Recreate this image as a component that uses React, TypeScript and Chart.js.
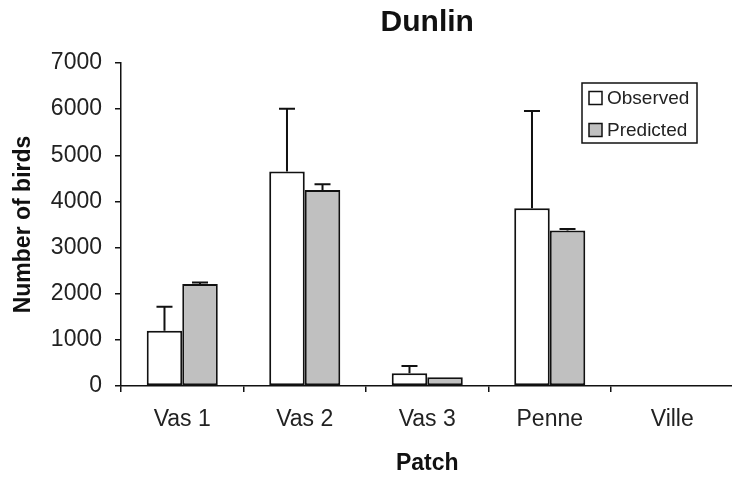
import React, { useEffect, useRef } from 'react';
import { Chart, registerables } from 'chart.js';

Chart.register(...registerables);

const categories = ['Vas 1', 'Vas 2', 'Vas 3', 'Penne', 'Ville'];
const observed = [1200, 4650, 275, 3850, 0];
const observedErr = [520, 1360, 160, 2110, 0];
const predicted = [2210, 4250, 190, 3370, 0];
const predictedErr = [35, 120, 0, 30, 0];
const seriesLabels = ['Observed', 'Predicted'];
const yMin = 0;
const yMax = 7000;
const yStep = 1000;

const FONT = "'Liberation Sans', Arial, Helvetica, sans-serif";

const errorBarPlugin = {
  id: 'errorBars',
  afterDatasetsDraw(chart: any) {
    const errs = [observedErr, predictedErr];
    const ctx = chart.ctx;
    const yScale = chart.scales.y;
    ctx.save();
    ctx.strokeStyle = '#111';
    ctx.lineWidth = 2;
    chart.data.datasets.forEach((ds: any, i: number) => {
      const meta = chart.getDatasetMeta(i);
      meta.data.forEach((bar: any, j: number) => {
        const err = errs[i][j];
        if (!err) return;
        const v = ds.data[j];
        const yTop = yScale.getPixelForValue(v + err);
        const yBase = yScale.getPixelForValue(v);
        ctx.beginPath();
        ctx.moveTo(bar.x, yBase);
        ctx.lineTo(bar.x, yTop);
        ctx.moveTo(bar.x - 8, yTop);
        ctx.lineTo(bar.x + 8, yTop);
        ctx.stroke();
      });
    });
    ctx.restore();
  },
};

const boxLegendPlugin = {
  id: 'boxLegend',
  afterDraw(chart: any) {
    const ctx = chart.ctx;
    const area = chart.chartArea;
    const w = 115;
    const h = 60;
    const x0 = area.right - 36.5 - w;
    const y0 = area.top + 20;
    ctx.save();
    ctx.fillStyle = '#fff';
    ctx.fillRect(x0, y0, w, h);
    ctx.strokeStyle = '#111';
    ctx.lineWidth = 1.5;
    ctx.strokeRect(x0, y0, w, h);
    ctx.font = `19px ${FONT}`;
    ctx.textBaseline = 'middle';
    ctx.textAlign = 'left';
    chart.data.datasets.forEach((ds: any, i: number) => {
      const cy = y0 + 15 + i * 32;
      const sx = x0 + 7;
      ctx.fillStyle = ds.backgroundColor;
      ctx.fillRect(sx, cy - 6.5, 13, 13);
      ctx.strokeStyle = '#111';
      ctx.lineWidth = 1.5;
      ctx.strokeRect(sx, cy - 6.5, 13, 13);
      ctx.fillStyle = '#222';
      ctx.fillText(ds.label, sx + 18, cy + 1);
    });
    ctx.restore();
  },
};

export default function App() {
  const canvasRef = useRef<HTMLCanvasElement | null>(null);

  useEffect(() => {
    if (!canvasRef.current) return;
    const chart = new Chart(canvasRef.current, {
      type: 'bar',
      data: {
        labels: categories,
        datasets: [
          {
            label: seriesLabels[0],
            data: observed,
            backgroundColor: '#ffffff',
            borderColor: '#111',
            borderWidth: 2,
            borderSkipped: false,
          },
          {
            label: seriesLabels[1],
            data: predicted,
            backgroundColor: '#c0c0c0',
            borderColor: '#111',
            borderWidth: 2,
            borderSkipped: false,
          },
        ],
      },
      options: {
        responsive: false,
        animation: false,
        devicePixelRatio: 1,
        layout: { padding: { left: 0, right: 2.5, top: 0, bottom: 0 } },
        datasets: { bar: { categoryPercentage: 0.58, barPercentage: 1.0 } },
        plugins: {
          legend: { display: false },
          tooltip: { enabled: false },
          title: {
            display: true,
            text: 'Dunlin',
            fullSize: false,
            color: '#111',
            font: { family: FONT, size: 30, weight: 'bold' },
            padding: { top: 5, bottom: 22 },
          },
        },
        scales: {
          x: {
            grid: {
              display: true,
              drawOnChartArea: false,
              drawTicks: true,
              tickLength: 6,
              color: '#111',
              lineWidth: 1.5,
            },
            border: { display: true, color: '#111', width: 1.5 },
            ticks: {
              color: '#222',
              font: { family: FONT, size: 23 },
              padding: 14,
            },
            title: {
              display: true,
              text: 'Patch',
              color: '#111',
              font: { family: FONT, size: 23, weight: 'bold' },
              padding: { top: 0, bottom: 0 },
            },
            afterFit(scale: any) {
              scale.height = 91;
            },
          },
          y: {
            min: yMin,
            max: yMax,
            grid: {
              display: true,
              drawOnChartArea: false,
              drawTicks: true,
              tickLength: 6,
              color: '#111',
              lineWidth: 1.5,
            },
            border: { display: true, color: '#111', width: 1.5 },
            ticks: {
              stepSize: yStep,
              color: '#222',
              font: { family: FONT, size: 23 },
              padding: 13,
              callback: (v: any) => String(v),
            },
            title: {
              display: true,
              text: 'Number of birds',
              color: '#111',
              font: { family: FONT, size: 23, weight: 'bold' },
              padding: { top: 10, bottom: 0 },
            },
            afterFit(scale: any) {
              scale.width = 121;
            },
          },
        },
      },
      plugins: [errorBarPlugin, boxLegendPlugin],
    });
    return () => chart.destroy();
  }, []);

  return (
    <div
      style={{
        position: 'absolute',
        left: 0,
        top: 0,
        width: 732,
        height: 477,
        overflow: 'hidden',
        background: '#fff',
      }}
    >
      <canvas ref={canvasRef} width={736} height={477} style={{ width: 736, height: 477, display: 'block' }} />
    </div>
  );
}
